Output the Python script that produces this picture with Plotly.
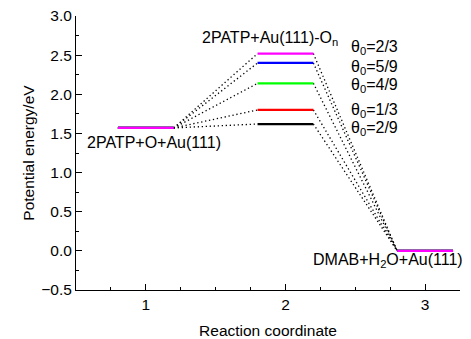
import plotly.graph_objects as go

# Energy profile of the 2PATP -> DMAB reaction on Au(111) for several O coverages
coverage_labels = ["θ<sub>0</sub>=2/3", "θ<sub>0</sub>=5/9", "θ<sub>0</sub>=4/9",
                   "θ<sub>0</sub>=1/3", "θ<sub>0</sub>=2/9"]
initial_energy = 1.57
ts_energies = [2.52, 2.40, 2.14, 1.80, 1.62]
final_energy = 0.0
series_colors = ["#FF00FF", "#0000FF", "#00FF00", "#FF0000", "#000000"]

stages = [1, 2, 3]
half_width = 0.2

FONT = "Liberation Sans, Arial, sans-serif"
fig = go.Figure()

# draw from the lowest barrier to the highest so magenta sits on top
for e_ts, color in reversed(list(zip(ts_energies, series_colors))):
    levels = [initial_energy, e_ts, final_energy]
    # dotted connectors between neighbouring states
    for i in range(len(stages) - 1):
        fig.add_trace(go.Scatter(
            x=[stages[i] + half_width, stages[i + 1] - half_width],
            y=[levels[i], levels[i + 1]],
            mode="lines",
            line=dict(color="black", width=1.3, dash="1.3px,2.7px"),
            hoverinfo="skip", showlegend=False))
    # solid state bars
    for s, e in zip(stages, levels):
        fig.add_trace(go.Scatter(
            x=[s - half_width, s + half_width], y=[e, e],
            mode="lines", line=dict(color=color, width=2.2),
            showlegend=False))

annotations = [
    dict(x=0.563, y=1.39, text="2PATP+O+Au(111)"),
    dict(x=1.386, y=2.715, text="2PATP+Au(111)-O<sub>n</sub>"),
    dict(x=2.186, y=-0.12, text="DMAB+H<sub>2</sub>O+Au(111)"),
]
label_y = [2.60, 2.346, 2.116, 1.797, 1.567]
for txt, ly in zip(coverage_labels, label_y):
    annotations.append(dict(x=2.454, y=ly, text=txt))

fig.update_layout(
    width=471, height=339,
    margin=dict(l=76, r=11, t=16, b=49, autoexpand=False),
    plot_bgcolor="white", paper_bgcolor="white",
    font=dict(family=FONT, size=15.5, color="black"),
    annotations=[dict(a, xref="x", yref="y", showarrow=False, xanchor="left",
                      yanchor="middle",
                      font=dict(family=FONT, size=16, color="black"))
                 for a in annotations],
    xaxis=dict(
        range=[0.5, 3.25], tickmode="array", tickvals=stages,
        automargin=False,
        showline=True, linecolor="black", linewidth=1, showgrid=False,
        zeroline=False, ticks="inside", ticklen=6, tickcolor="black",
        tickfont=dict(family=FONT, size=15.5, color="black"),
        minor=dict(dtick=0.25, tick0=0.5, ticks="inside", ticklen=3,
                   tickcolor="black", showgrid=False),
        title=dict(text="Reaction coordinate", standoff=16,
                   font=dict(family=FONT, size=15.5, color="black")),
    ),
    yaxis=dict(
        range=[-0.5, 3.0], tickmode="linear", tick0=0, dtick=0.5,
        tickformat=".1f", automargin=False,
        showline=True, linecolor="black", linewidth=1, showgrid=False,
        zeroline=False, ticks="inside", ticklen=6, tickcolor="black",
        tickfont=dict(family=FONT, size=15.5, color="black"),
        minor=dict(dtick=0.25, tick0=0, ticks="inside", ticklen=3,
                   tickcolor="black", showgrid=False),
        title=dict(text="Potential energy/eV", standoff=2,
                   font=dict(family=FONT, size=15.5, color="black")),
    ),
)

fig.write_html("out.html")
